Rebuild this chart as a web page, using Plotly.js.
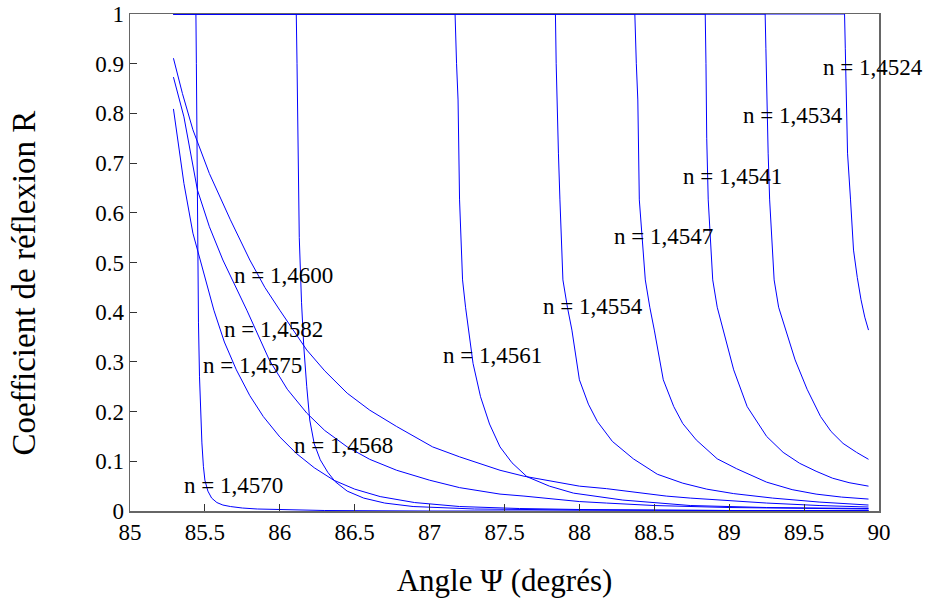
<!DOCTYPE html>
<html>
<head>
<meta charset="utf-8">
<script src="https://cdn.plot.ly/plotly-3.0.1.min.js"></script>
<style>html,body{margin:0;padding:0;background:#fff;}#chart{width:926px;height:601px;}</style>
</head>
<body>
<div id="chart"></div>
<script>
// Curves that stay at R = 1 up to a critical angle, then fall
const xA = [85.29, 89.77, 89.775, 89.78, 89.79, 89.81, 89.83, 89.855, 89.88, 89.905, 89.93];
const rA = [1, 1, 0.93, 0.827, 0.72, 0.626, 0.525, 0.47, 0.425, 0.39, 0.364];

const xB = [85.29, 89.24, 89.245, 89.25, 89.26, 89.27, 89.285, 89.30, 89.33, 89.38, 89.44, 89.52, 89.61, 89.68, 89.76, 89.85, 89.93];
const rB = [1, 1, 0.93, 0.827, 0.72, 0.626, 0.54, 0.465, 0.41, 0.364, 0.304, 0.245, 0.19, 0.16, 0.136, 0.118, 0.104];

const xC = [85.29, 88.84, 88.845, 88.85, 88.86, 88.875, 88.89, 88.92, 88.96, 89.03, 89.12, 89.25, 89.36, 89.47, 89.58, 89.69, 89.80, 89.93];
const rC = [1, 1, 0.9, 0.75, 0.626, 0.54, 0.465, 0.41, 0.364, 0.284, 0.21, 0.15, 0.118, 0.096, 0.08, 0.066, 0.057, 0.05];

const xD = [85.29, 88.37, 88.38, 88.39, 88.40, 88.42, 88.44, 88.47, 88.50, 88.56, 88.63, 88.69, 88.78, 88.92, 89.05, 89.25, 89.42, 89.58, 89.75, 89.93];
const rD = [1, 1, 0.9, 0.827, 0.626, 0.54, 0.465, 0.41, 0.364, 0.264, 0.21, 0.176, 0.143, 0.105, 0.085, 0.058, 0.043, 0.034, 0.028, 0.024];

const xE = [85.29, 87.84, 87.845, 87.85, 87.86, 87.87, 87.89, 87.92, 87.95, 88.00, 88.06, 88.12, 88.22, 88.36, 88.52, 88.69, 88.85, 89.03, 89.29, 89.60, 89.93];
const rE = [1, 1, 0.9, 0.827, 0.72, 0.626, 0.465, 0.41, 0.364, 0.264, 0.215, 0.18, 0.14, 0.105, 0.074, 0.056, 0.044, 0.035, 0.026, 0.018, 0.012];

const xF = [85.29, 87.17, 87.18, 87.19, 87.20, 87.21, 87.22, 87.24, 87.26, 87.29, 87.34, 87.40, 87.47, 87.55, 87.65, 87.80, 87.96, 88.29, 88.74, 89.25, 89.93];
const rF = [1, 1, 0.9, 0.827, 0.626, 0.54, 0.465, 0.41, 0.364, 0.297, 0.23, 0.175, 0.129, 0.097, 0.069, 0.05, 0.036, 0.022, 0.011, 0.007, 0.005];

const xG = [85.29, 86.11, 86.115, 86.12, 86.13, 86.145, 86.16, 86.18, 86.20, 86.23, 86.27, 86.32, 86.37, 86.45, 86.56, 86.70, 86.89, 87.3, 88.0, 89.0, 89.93];
const rG = [1, 1, 0.9, 0.75, 0.55, 0.42, 0.331, 0.25, 0.183, 0.135, 0.103, 0.078, 0.059, 0.04, 0.026, 0.016, 0.009, 0.004, 0.002, 0.001, 0.001];

const xH = [85.29, 85.44, 85.443, 85.447, 85.452, 85.457, 85.464, 85.472, 85.48, 85.49, 85.50, 85.52, 85.545, 85.58, 85.62, 85.67, 85.75, 85.85, 86.0, 86.3, 87.0, 88.0, 89.0, 89.93];
const rH = [1, 1, 0.9, 0.7, 0.5, 0.38, 0.27, 0.19, 0.137, 0.09, 0.062, 0.04, 0.026, 0.017, 0.012, 0.009, 0.006, 0.004, 0.003, 0.001, 0, 0, 0, 0];

// Curves that decay smoothly from the start of the range
const xT = [85.29, 85.35, 85.42, 85.53, 85.67, 85.80, 85.90, 86.00, 86.18, 86.30, 86.45, 86.60, 86.78, 87.02, 87.20, 87.47, 87.63, 88.00, 88.18, 88.58, 88.74, 89.25, 89.60, 89.93];
const rT = [0.911, 0.84, 0.767, 0.679, 0.586, 0.505, 0.45, 0.404, 0.324, 0.282, 0.237, 0.203, 0.170, 0.129, 0.109, 0.082, 0.07, 0.05, 0.045, 0.03, 0.026, 0.016, 0.011, 0.008];

const xM = [85.29, 85.36, 85.45, 85.53, 85.62, 85.70, 85.78, 85.93, 86.05, 86.18, 86.30, 86.45, 86.60, 86.78, 87.00, 87.20, 87.47, 87.63, 88.00, 88.18, 88.50, 89.00, 89.50, 89.93];
const rM = [0.873, 0.793, 0.646, 0.572, 0.505, 0.455, 0.404, 0.304, 0.245, 0.197, 0.162, 0.129, 0.104, 0.082, 0.062, 0.047, 0.034, 0.03, 0.019, 0.016, 0.011, 0.007, 0.005, 0.004];

const xL = [85.29, 85.36, 85.42, 85.47, 85.56, 85.63, 85.71, 85.80, 85.89, 86.00, 86.11, 86.23, 86.36, 86.50, 86.67, 86.90, 87.20, 87.60, 88.00, 89.00, 89.93];
const rL = [0.809, 0.659, 0.559, 0.505, 0.404, 0.34, 0.284, 0.232, 0.19, 0.149, 0.116, 0.087, 0.062, 0.044, 0.029, 0.017, 0.009, 0.005, 0.003, 0.001, 0.001];

const seriesNames = ["n = 1,4524", "n = 1,4534", "n = 1,4541", "n = 1,4547", "n = 1,4554", "n = 1,4561", "n = 1,4568", "n = 1,4570", "n = 1,4600", "n = 1,4582", "n = 1,4575"];

// Label positions (angle, R) for each curve label
const labelText = ["n = 1,4524", "n = 1,4534", "n = 1,4541", "n = 1,4547", "n = 1,4554", "n = 1,4561", "n = 1,4600", "n = 1,4582", "n = 1,4575", "n = 1,4568", "n = 1,4570"];
const labelX = [89.96, 89.426, 89.025, 88.56, 88.09, 87.42, 86.023, 85.955, 85.82, 86.424, 85.69];
const labelY = [0.893, 0.795, 0.673, 0.553, 0.412, 0.313, 0.474, 0.365, 0.292, 0.131, 0.052];

const xTitle = 'Angle \u03A8 (degrés)';
const yTitle = 'Coefficient de réflexion R';

const xs = [xA, xB, xC, xD, xE, xF, xG, xH, xT, xM, xL];
const rs = [rA, rB, rC, rD, rE, rF, rG, rH, rT, rM, rL];

const serif = "Liberation Serif";

const traces = xs.map((x, i) => ({
  x: x, y: rs[i], type: 'scatter', mode: 'lines', name: seriesNames[i],
  line: {color: '#0000ff', width: 1}, hoverinfo: 'skip'
}));

const annotations = labelText.map((t, i) => ({
  x: labelX[i], y: labelY[i], xref: 'x', yref: 'y', text: t, showarrow: false,
  xanchor: 'center', yanchor: 'middle',
  font: {family: serif, size: 23, color: '#000'}
}));
// y-axis title, placed as in the reference (slightly below the plot centre)
annotations.push({
  x: -0.1415, y: 0.4577, xref: 'paper', yref: 'paper', text: yTitle, showarrow: false,
  textangle: -90, xanchor: 'center', yanchor: 'middle',
  font: {family: serif, size: 33, color: '#000'}
});

const layout = {
  width: 926, height: 601,
  margin: {l: 130, r: 47, t: 14, b: 90, pad: 0},
  paper_bgcolor: '#fff', plot_bgcolor: '#fff',
  showlegend: false,
  font: {family: serif, color: '#000'},
  xaxis: {
    range: [85, 90], dtick: 0.5, tick0: 85,
    ticks: 'inside', ticklen: 7, tickcolor: '#333', tickwidth: 1,
    showline: true, mirror: true, linecolor: '#666', linewidth: 1.5,
    showgrid: false, zeroline: false,
    tickfont: {family: serif, size: 23, color: '#000'},
    title: {text: xTitle, font: {family: serif, size: 31, color: '#000'}, standoff: 25}
  },
  yaxis: {
    range: [0, 1], dtick: 0.1, tick0: 0,
    ticks: 'inside', ticklen: 7, tickcolor: '#333', tickwidth: 1,
    showline: true, mirror: true, linecolor: '#666', linewidth: 1.5,
    showgrid: false, zeroline: false,
    tickfont: {family: serif, size: 23, color: '#000'}
  },
  annotations: annotations
};

Plotly.newPlot('chart', traces, layout, {displayModeBar: false, staticPlot: true});
</script>
</body>
</html>
